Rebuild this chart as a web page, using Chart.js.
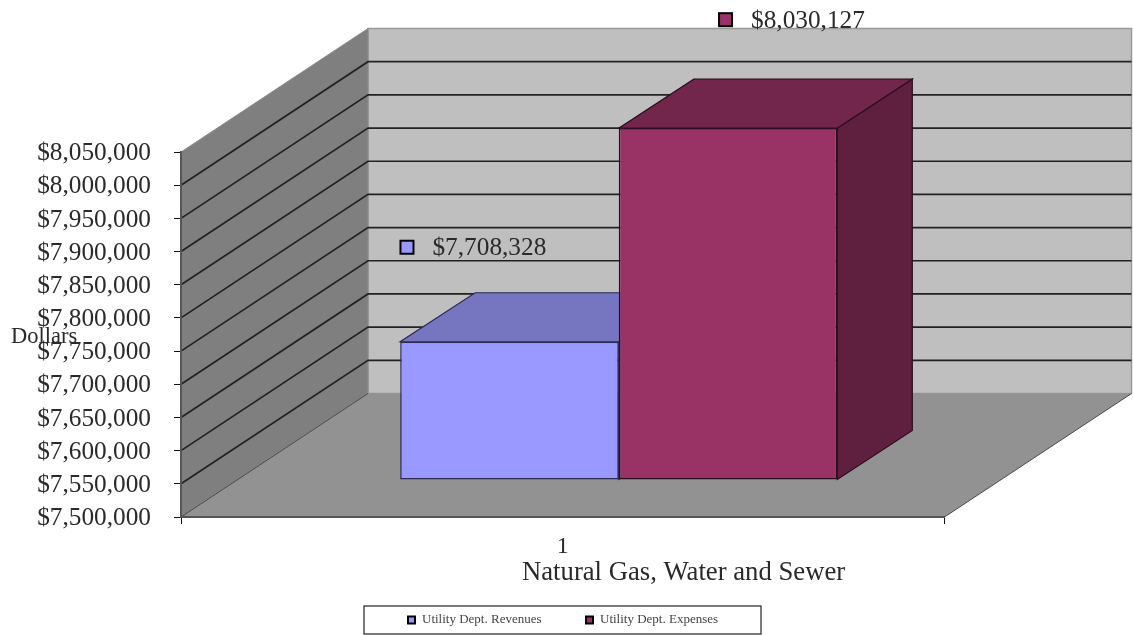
<!DOCTYPE html>
<html>
<head>
<meta charset="utf-8">
<title>Utility Dept. Revenues and Expenses</title>
<script src="https://cdn.jsdelivr.net/npm/chart.js@4"></script>
<style>
  html, body { margin: 0; padding: 0; background: #fff; }
  #wrap { position: relative; width: 1133px; height: 635px; }
  canvas { filter: blur(0.4px); }
</style>
</head>
<body>
<div id="wrap"><canvas id="chart"></canvas></div>
<script>
const categories = ["1"];
const seriesNames = ["Utility Dept. Revenues", "Utility Dept. Expenses"];
const seriesValues = [[7708328], [8030127]];
const yMin = 7500000;
const yMax = 8050000;
const yStep = 50000;
const yAxisTitle = "Dollars";
const xAxisTitle = "Natural Gas, Water and Sewer";

const FRONT_COLORS = ["#9999ff", "#993366"];
const TOP_COLORS = ["#7676c0", "#73264c"];
const SIDE_COLORS = ["#66669f", "#5f203f"];
const EDGE_COLORS = ["#2b2b55", "#2a0f20"];

const SERIF = '"Liberation Serif", serif';
const TEXT_COLOR = "#2a2a2a";

// depth of the box: how far the back wall sits behind the front plane
const WALL_DX = 187;
const WALL_DY = -123.5;
// bars stand part way in and have their own depth
const BAR_DX = 56;
const BAR_DY = -37;
const BAR_DEPTH_X = 75;
const BAR_DEPTH_Y = -49;

const money = (v) => "$" + v.toLocaleString("en-US");

function poly(ctx, pts, fill, stroke, width) {
  ctx.beginPath();
  pts.forEach((p, i) => (i ? ctx.lineTo(p[0], p[1]) : ctx.moveTo(p[0], p[1])));
  ctx.closePath();
  if (fill) {
    ctx.fillStyle = fill;
    ctx.fill();
  }
  if (stroke) {
    ctx.strokeStyle = stroke;
    ctx.lineWidth = width || 1;
    ctx.stroke();
  }
}

const walls3d = {
  id: "walls3d",
  beforeDraw(chart) {
    const { ctx, chartArea: a, scales } = chart;
    const y = scales.y;
    ctx.save();

    // back wall
    poly(ctx, [
      [a.left + WALL_DX, a.top + WALL_DY],
      [a.right + WALL_DX, a.top + WALL_DY],
      [a.right + WALL_DX, a.bottom + WALL_DY],
      [a.left + WALL_DX, a.bottom + WALL_DY]
    ], "#bfbfbf", "#999999", 1.5);

    // side wall
    poly(ctx, [
      [a.left, a.top],
      [a.left + WALL_DX, a.top + WALL_DY],
      [a.left + WALL_DX, a.bottom + WALL_DY],
      [a.left, a.bottom]
    ], "#7f7f7f", "#8c8c8c", 1);

    // floor
    poly(ctx, [
      [a.left, a.bottom],
      [a.right, a.bottom],
      [a.right + WALL_DX, a.bottom + WALL_DY],
      [a.left + WALL_DX, a.bottom + WALL_DY]
    ], "#929292");
    ctx.beginPath();
    ctx.moveTo(a.right, a.bottom);
    ctx.lineTo(a.right + WALL_DX, a.bottom + WALL_DY);
    ctx.moveTo(a.left, a.bottom);
    ctx.lineTo(a.left + WALL_DX, a.bottom + WALL_DY);
    ctx.strokeStyle = "#4a4a4a";
    ctx.lineWidth = 1;
    ctx.stroke();

    // gridlines fold from the side wall onto the back wall
    ctx.strokeStyle = "#222222";
    ctx.lineWidth = 1.7;
    y.ticks.forEach((tick) => {
      if (tick.value === yMin || tick.value === yMax) return;
      const py = y.getPixelForValue(tick.value);
      ctx.beginPath();
      ctx.moveTo(a.left, py);
      ctx.lineTo(a.left + WALL_DX, py + WALL_DY);
      ctx.lineTo(a.right + WALL_DX, py + WALL_DY);
      ctx.stroke();
    });
    ctx.restore();
  }
};

const bars3d = {
  id: "bars3d",
  beforeDatasetsDraw(chart) {
    const { ctx } = chart;
    ctx.save();
    ctx.translate(BAR_DX, BAR_DY);
    chart.data.datasets.forEach((ds, i) => {
      const bar = chart.getDatasetMeta(i).data[0];
      const left = bar.x - bar.width / 2;
      const right = bar.x + bar.width / 2;
      poly(ctx, [
        [left, bar.y],
        [right, bar.y],
        [right + BAR_DEPTH_X, bar.y + BAR_DEPTH_Y],
        [left + BAR_DEPTH_X, bar.y + BAR_DEPTH_Y]
      ], TOP_COLORS[i], EDGE_COLORS[i], 1.2);
      poly(ctx, [
        [right, bar.y],
        [right + BAR_DEPTH_X, bar.y + BAR_DEPTH_Y],
        [right + BAR_DEPTH_X, bar.base + BAR_DEPTH_Y],
        [right, bar.base]
      ], SIDE_COLORS[i], EDGE_COLORS[i], 1.2);
    });
    // leave the translate on so the library's own bars land on the bar plane
  },
  afterDatasetsDraw(chart) {
    chart.ctx.restore();
  }
};

// marker + value labels, axis titles and the boxed legend
const LABEL_OFFSETS = [[-54, -132], [46, -146]];
const LEGEND_BOX = { x: 364, y: 606, w: 397, h: 28 };
const LEGEND_ITEMS_X = [408, 586];

const annotations = {
  id: "annotations",
  afterDraw(chart) {
    const { ctx, chartArea: a } = chart;
    ctx.save();
    ctx.textBaseline = "middle";
    ctx.fillStyle = TEXT_COLOR;

    ctx.font = `25.3px ${SERIF}`;
    chart.data.datasets.forEach((ds, i) => {
      const bar = chart.getDatasetMeta(i).data[0];
      const mx = bar.x + LABEL_OFFSETS[i][0];
      const my = bar.y + LABEL_OFFSETS[i][1];
      ctx.fillStyle = FRONT_COLORS[i];
      ctx.strokeStyle = "#000";
      ctx.lineWidth = 2;
      ctx.fillRect(mx + 1, my - 6, 13, 13);
      ctx.strokeRect(mx + 1, my - 6, 13, 13);
      ctx.fillStyle = TEXT_COLOR;
      ctx.textAlign = "left";
      ctx.fillText(money(ds.data[0]), mx + 33, my + 2);
    });

    ctx.textAlign = "left";
    ctx.font = `22.5px ${SERIF}`;
    ctx.fillText(yAxisTitle, 11, (a.top + a.bottom) / 2 + 3);
    ctx.font = `26.7px ${SERIF}`;
    ctx.fillText(xAxisTitle, 522, 573);

    ctx.strokeStyle = "#222";
    ctx.lineWidth = 1.2;
    ctx.strokeRect(LEGEND_BOX.x, LEGEND_BOX.y, LEGEND_BOX.w, LEGEND_BOX.h);
    ctx.font = `13px ${SERIF}`;
    chart.data.datasets.forEach((ds, i) => {
      const lx = LEGEND_ITEMS_X[i];
      const ly = LEGEND_BOX.y + 14;
      ctx.fillStyle = FRONT_COLORS[i];
      ctx.strokeStyle = "#000";
      ctx.lineWidth = 2;
      ctx.fillRect(lx, ly - 3.5, 7, 7);
      ctx.strokeRect(lx, ly - 3.5, 7, 7);
      ctx.fillStyle = "#444";
      ctx.fillText(ds.label, lx + 14, ly);
    });
    ctx.restore();
  }
};

new Chart(document.getElementById("chart"), {
  type: "bar",
  data: {
    labels: categories,
    datasets: seriesNames.map((name, i) => ({
      label: name,
      data: seriesValues[i],
      base: yMin,
      backgroundColor: FRONT_COLORS[i],
      borderColor: EDGE_COLORS[i],
      borderWidth: 1.5,
      borderSkipped: false,
      categoryPercentage: 0.5725,
      barPercentage: 1,
      clip: false
    }))
  },
  options: {
    animation: false,
    responsive: true,
    maintainAspectRatio: false,
    layout: { padding: { top: 152, right: 188.5, bottom: 0, left: 0 } },
    plugins: {
      legend: { display: false },
      tooltip: { enabled: false }
    },
    scales: {
      x: {
        afterFit(scale) { scale.height = 118; },
        grid: { drawOnChartArea: false, drawTicks: true, tickLength: 7, tickColor: "#111" },
        border: { color: "#555", width: 2 },
        ticks: { color: TEXT_COLOR, padding: 8, font: { family: SERIF, size: 24 } }
      },
      y: {
        min: yMin,
        max: yMax,
        afterFit(scale) { scale.width = 181; },
        grid: { drawOnChartArea: false, drawTicks: true, tickLength: 7, tickColor: "#111" },
        border: { color: "#555", width: 2 },
        ticks: {
          stepSize: yStep,
          autoSkip: false,
          color: TEXT_COLOR,
          padding: 23,
          labelOffset: 1.5,
          font: { family: SERIF, size: 25.3 },
          callback: (v) => money(v)
        }
      }
    }
  },
  plugins: [walls3d, bars3d, annotations]
});
</script>
</body>
</html>
